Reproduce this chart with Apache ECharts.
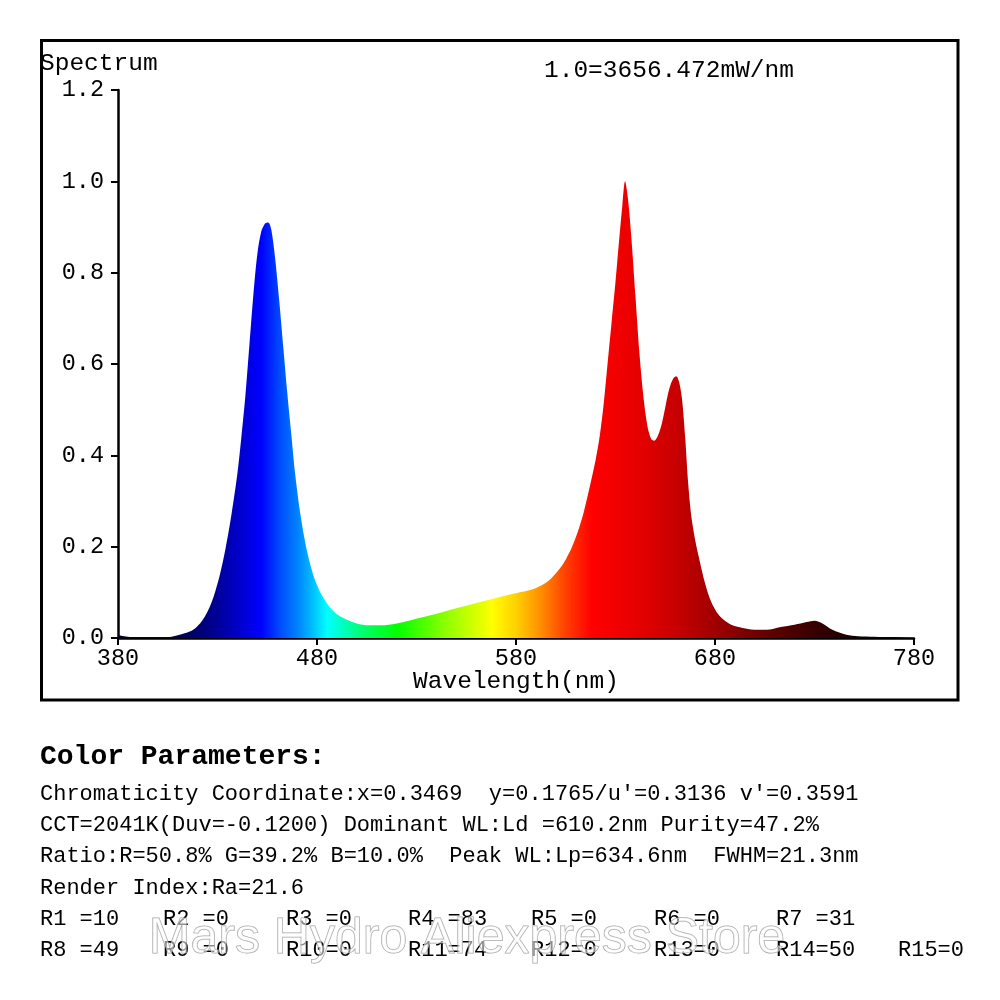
<!DOCTYPE html>
<html><head><meta charset="utf-8">
<script src="https://cdn.jsdelivr.net/npm/echarts@6/dist/echarts.min.js"></script>
<style>html,body{margin:0;padding:0;background:#fff}#c{width:1000px;height:1000px}</style>
</head><body><div id="c"></div>
<script>
// ---- data ----
const wavelengths = [380,383,387,395,402,407,411,416,419,422,425,428,431,434,437,440,442,444,446,448,450,452,454,455.5,457,459,461,463,465,467,469,471,473,475,477,479,482,486,490,495,500,506,512,520,528,540,550,562,572,580,588,594,598,602,605,608,611,614,617,620,622,624,626,628,630,632,633.5,634.8,636.3,638,640,642,644,646,648,649.5,651,653,655,657,659,660.5,662,663.5,665,666.5,668,670,672.5,675,678,682,687,692,700,706,713,720,726,730,734,739,746,752,760,770,780];
const intensity   = [0.006,0.004,0.002,0.002,0.002,0.003,0.007,0.014,0.022,0.036,0.058,0.09,0.135,0.195,0.27,0.36,0.44,0.53,0.64,0.75,0.84,0.89,0.908,0.91,0.895,0.83,0.74,0.64,0.54,0.45,0.36,0.29,0.235,0.19,0.155,0.127,0.097,0.07,0.052,0.04,0.032,0.028,0.028,0.032,0.04,0.053,0.065,0.079,0.09,0.098,0.106,0.118,0.132,0.152,0.172,0.198,0.232,0.275,0.33,0.39,0.44,0.51,0.6,0.69,0.78,0.88,0.95,1.0,0.96,0.875,0.75,0.625,0.53,0.465,0.435,0.432,0.44,0.465,0.505,0.545,0.568,0.573,0.56,0.52,0.44,0.34,0.27,0.215,0.165,0.12,0.08,0.05,0.032,0.024,0.018,0.018,0.024,0.029,0.035,0.038,0.032,0.018,0.007,0.004,0.003,0.002,0.002];
const xTickValues = [380,480,580,680,780];
const yTickValues = [0,0.2,0.4,0.6,0.8,1.0,1.2];
const chartTitle = 'Spectrum';
const scaleNote = '1.0=3656.472mW/nm';
const xAxisName = 'Wavelength(nm)';
const paramHeading = 'Color Parameters:';
const paramLines = [
  "Chromaticity Coordinate:x=0.3469  y=0.1765/u'=0.3136 v'=0.3591",
  "CCT=2041K(Duv=-0.1200) Dominant WL:Ld =610.2nm Purity=47.2%",
  "Ratio:R=50.8% G=39.2% B=10.0%  Peak WL:Lp=634.6nm  FWHM=21.3nm",
  "Render Index:Ra=21.6"
];
const renderRow1 = ['R1 =10','R2 =0','R3 =0','R4 =83','R5 =0','R6 =0','R7 =31'];
const renderRow2 = ['R8 =49','R9 =0','R10=0','R11=74','R12=0','R13=0','R14=50','R15=0'];
const watermark = 'Mars Hydro Aliexpress Store';
// spectrum colour ramp (wavelength -> colour)
const rampWl     = [380,415,428,440,452,462,470,478,485,495,505,520,545,568,580,592,605,618,640,660,680,700,725,745,780];
const rampColors = ['#000020','#000060','#000090','#0000c8','#0000ff','#0050ff','#0080ff','#00c0ff','#00ffff','#00ffb0','#00ff60','#00ff00','#90ff00','#ffff00','#ffd000','#ff9000','#ff4000','#ff0000','#e80000','#c80000','#a00000','#700000','#400000','#200000','#000000'];

// ---- build ----
const MONO = 'Liberation Mono';
const seriesData = wavelengths.map((w,i)=>[w,intensity[i]]);
const stops = rampWl.map((w,i)=>({offset:(w-380)/400, color:rampColors[i]}));

const graphics = [
  {type:'rect', shape:{x:41.5,y:40.5,width:916.5,height:659.5}, style:{fill:'none',stroke:'#000',lineWidth:3}, z:10},
  {type:'text', x:40, y:64, style:{text:chartTitle, font:'24.5px '+MONO, fill:'#000', verticalAlign:'middle'}},
  {type:'text', x:544, y:71, style:{text:scaleNote, font:'24.5px '+MONO, fill:'#000', verticalAlign:'middle'}},
  {type:'text', x:40, y:757, style:{text:paramHeading, font:'bold 28px '+MONO, fill:'#000', verticalAlign:'middle'}}
];
const lineBase = 794, lineStep = 31.3;
paramLines.forEach((t,i)=>graphics.push({type:'text', x:40, y:lineBase+i*lineStep, style:{text:t, font:'22px '+MONO, fill:'#000', verticalAlign:'middle'}}));
const colX = [40,163,286,408,531,654,776,898];
renderRow1.forEach((t,i)=>graphics.push({type:'text', x:colX[i], y:lineBase+4*lineStep, style:{text:t, font:'22px '+MONO, fill:'#000', verticalAlign:'middle'}}));
renderRow2.forEach((t,i)=>graphics.push({type:'text', x:colX[i], y:lineBase+5*lineStep, style:{text:t, font:'22px '+MONO, fill:'#000', verticalAlign:'middle'}}));
graphics.push({type:'text', x:467, y:939, z:20, style:{text:watermark, font:'50px "Liberation Sans"', fill:'rgba(255,255,255,0.55)', stroke:'rgba(130,130,130,0.75)', lineWidth:1, align:'center', verticalAlign:'middle'}});

const chart = echarts.init(document.getElementById('c'), null, {renderer:'canvas'});
chart.setOption({
  backgroundColor:'#fff',
  animation:false,
  grid:{left:118, right:86, top:90, bottom:362, containLabel:false},
  xAxis:{
    type:'value', min:380, max:780, interval:100,
    axisLine:{show:true, onZero:false, lineStyle:{color:'#000', width:2.5}},
    axisTick:{show:true, length:7, lineStyle:{color:'#000', width:2}},
    axisLabel:{color:'#000', fontFamily:MONO, fontSize:23.5, margin:9,
      formatter:v=>xTickValues.includes(v)?String(v):''},
    splitLine:{show:false},
    name:xAxisName, nameLocation:'middle', nameGap:44, nameMoveOverlap:false,
    nameTextStyle:{color:'#000', fontFamily:MONO, fontSize:24.5, verticalAlign:'middle'}
  },
  yAxis:{
    type:'value', min:0, max:1.2, interval:0.2,
    axisLine:{show:true, lineStyle:{color:'#000', width:2.5}},
    axisTick:{show:true, length:7, lineStyle:{color:'#000', width:2}},
    axisLabel:{color:'#000', fontFamily:MONO, fontSize:23.5, margin:14,
      formatter:v=>{const t=yTickValues.find(x=>Math.abs(x-v)<1e-6);return t===undefined?'':t.toFixed(1);}},
    splitLine:{show:false}
  },
  series:[{
    type:'line', data:seriesData, smooth:0.3, showSymbol:false, symbol:'none',
    lineStyle:{width:0},
    areaStyle:{opacity:1, color:{type:'linear', x:0, y:0, x2:1, y2:0, colorStops:stops}},
    z:2
  }],
  graphic:graphics
});
</script></body></html>
